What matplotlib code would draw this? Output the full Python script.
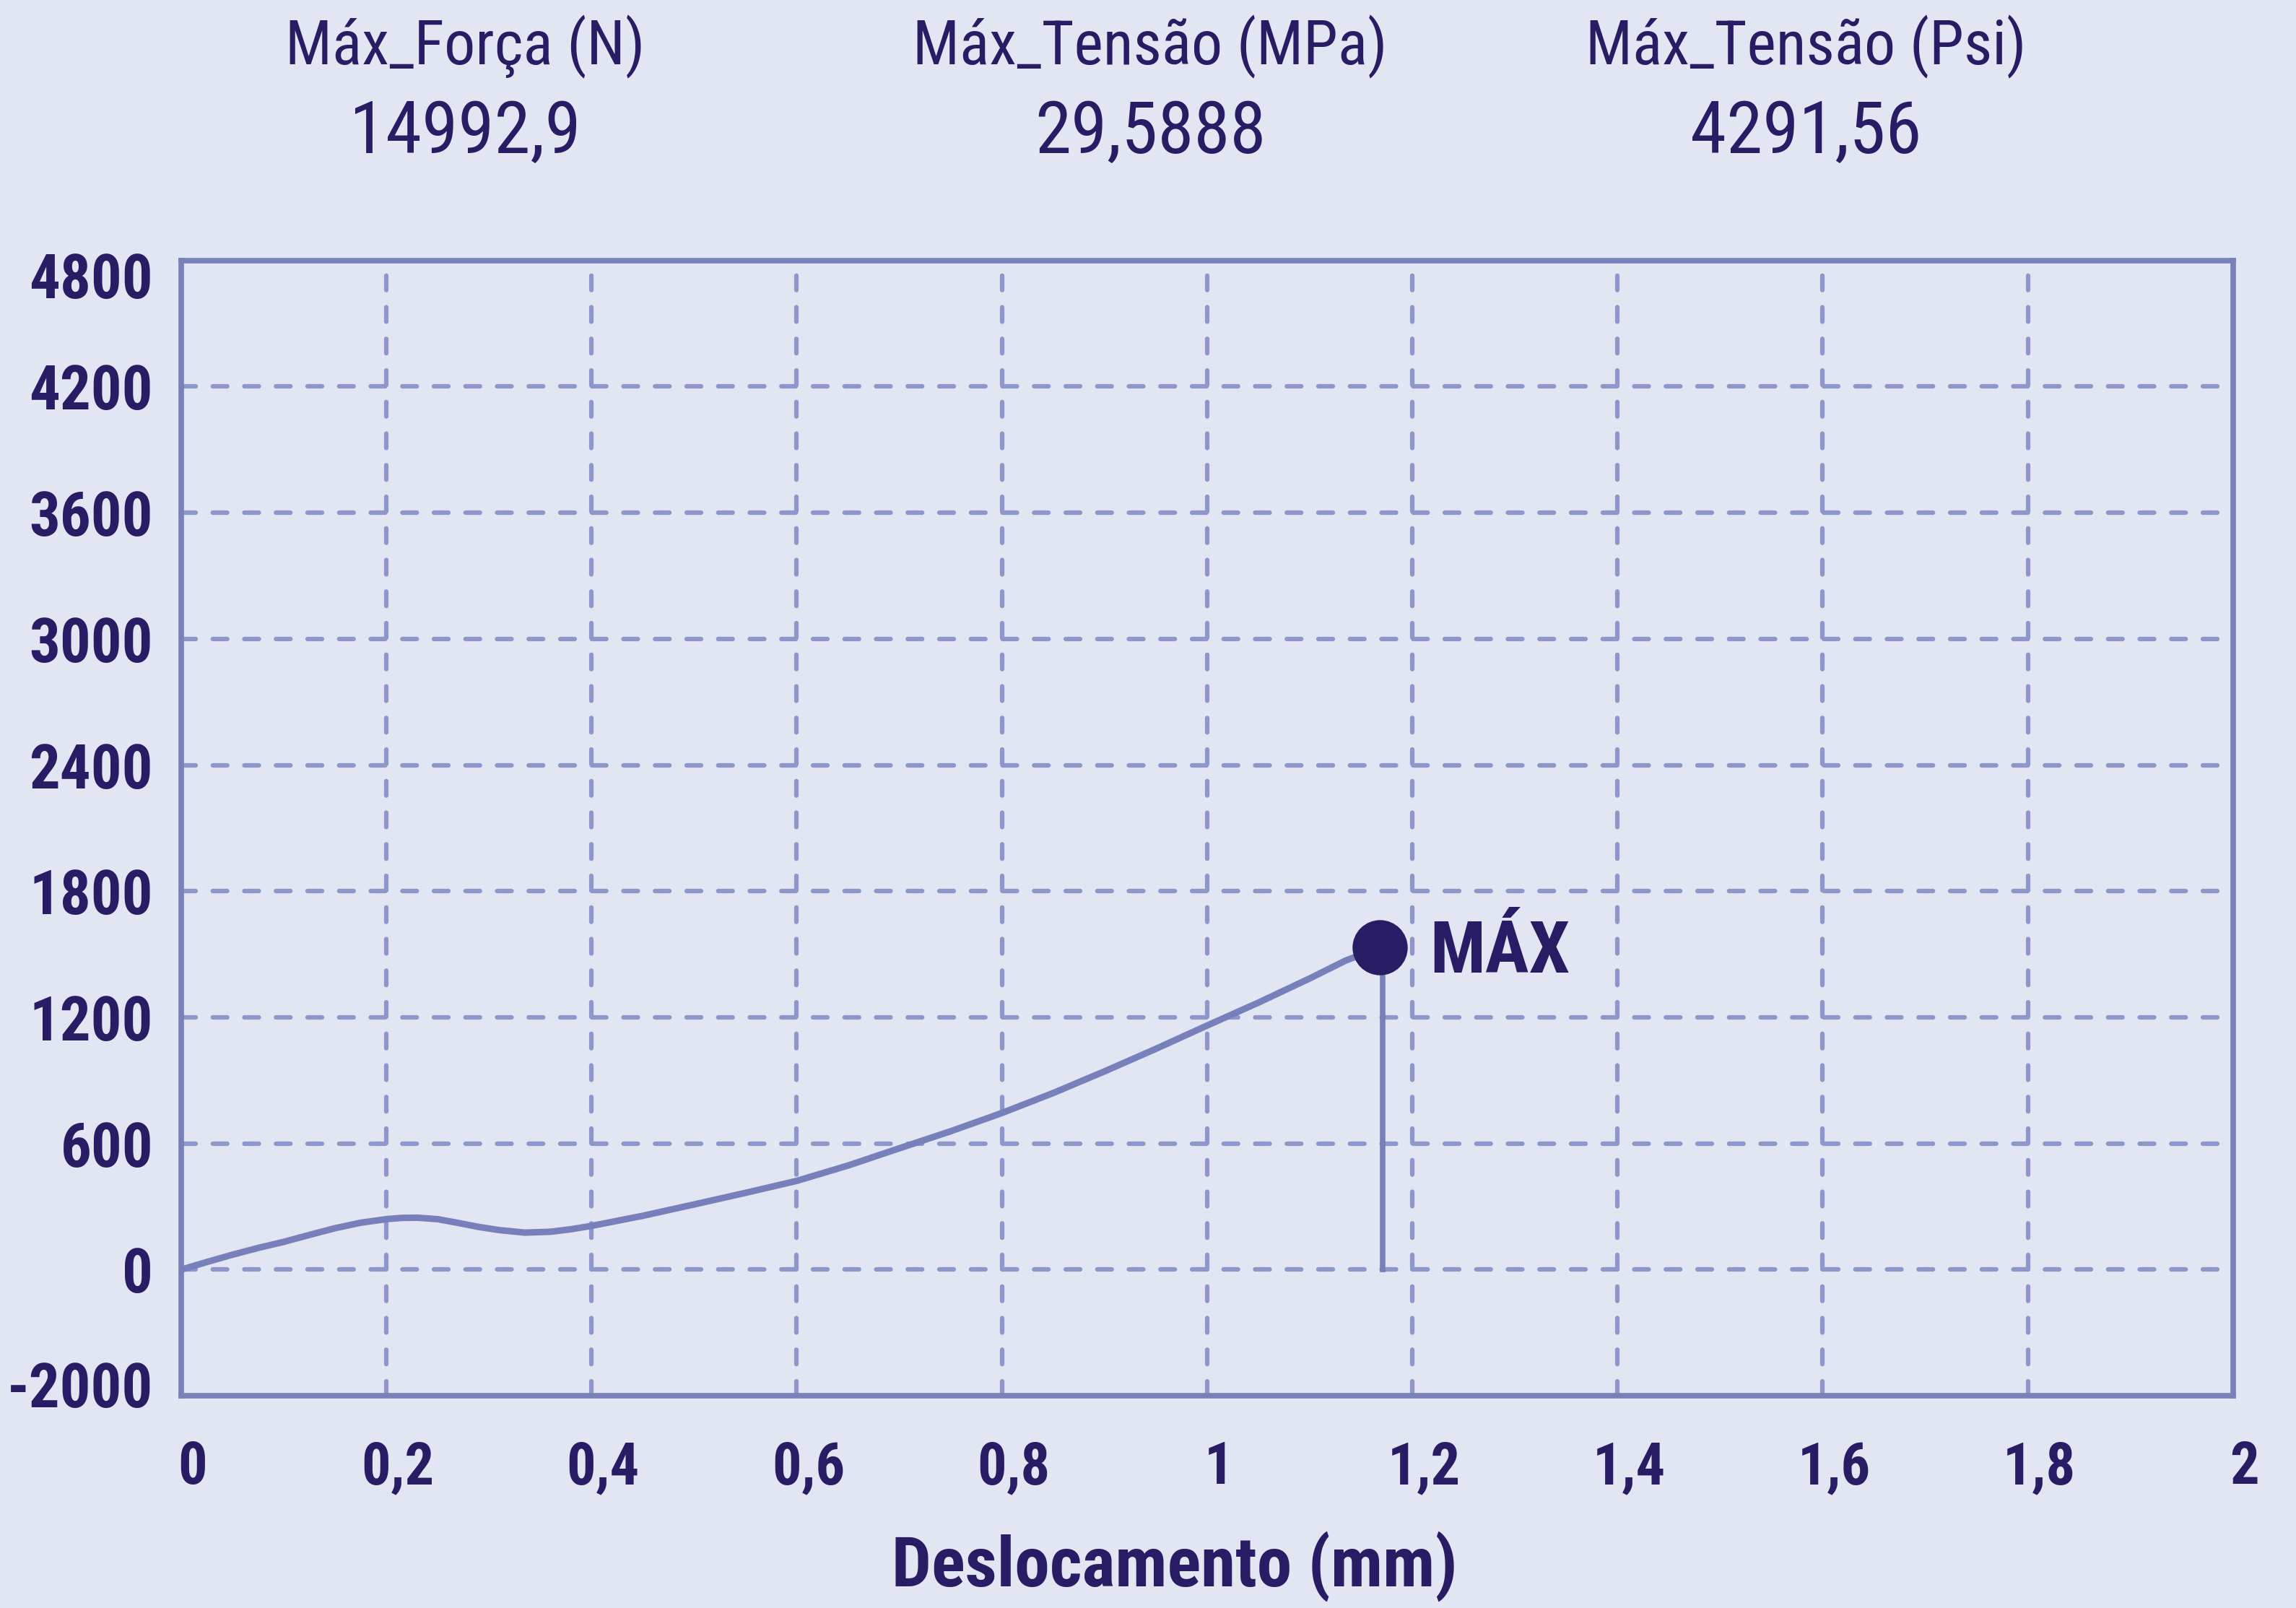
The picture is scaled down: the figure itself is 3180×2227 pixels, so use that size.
import matplotlib.pyplot as plt
import matplotlib.transforms as mtransforms

# valores (deslocamento em mm, força)
deslocamento = [0, 0.025, 0.05, 0.075, 0.10, 0.125, 0.15, 0.175, 0.20, 0.215, 0.23,
                0.25, 0.27, 0.29, 0.31, 0.335, 0.36, 0.38, 0.40, 0.45,
                0.50, 0.55, 0.60, 0.65, 0.70, 0.75, 0.80, 0.85, 0.90, 0.95,
                1.00, 1.05, 1.10, 1.135, 1.168]
forca = [0, 36, 71, 103, 132, 165, 197, 223, 240, 246, 247,
         240, 222, 203, 188, 176, 180, 192, 208, 256,
         310, 365, 422, 495, 577, 658, 745, 840, 943, 1050,
         1161, 1270, 1385, 1470, 1532]

max_x = 1.168
max_y = 1532

# cabeçalho
titulos = ["Máx_Força (N)", "Máx_Tensão (MPa)", "Máx_Tensão (Psi)"]
valores = ["14992,9", "29,5888", "4291,56"]

# eixo y com espaçamento igual (o -2000 fica um degrau abaixo de 0)
y_pos = [-600, 0, 600, 1200, 1800, 2400, 3000, 3600, 4200, 4800]
y_labels = ["-2000", "0", "600", "1200", "1800", "2400", "3000", "3600", "4200", "4800"]
x_ticks = [0, 0.2, 0.4, 0.6, 0.8, 1.0, 1.2, 1.4, 1.6, 1.8, 2.0]
x_labels = ["0", "0,2", "0,4", "0,6", "0,8", "1", "1,2", "1,4", "1,6", "1,8", "2"]

fundo = "#E2E6F2"
texto = "#281C64"
eixo = "#7A80BA"
grade = "#8E96CA"
curva = "#7880BC"
fonte = ["Roboto Condensed", "Liberation Sans", "DejaVu Sans"]

fig = plt.figure(figsize=(31.8, 22.27), dpi=100, facecolor=fundo)
ax = fig.add_axes([0.0789, 0.132, 0.8937, 0.706])
ax.set_facecolor(fundo)

for xc, t, v in zip([0.2025, 0.501, 0.7865], titulos, valores):
    fig.text(xc, 0.971, t, ha="center", va="center", fontsize=62,
             color=texto, family=fonte)
    fig.text(xc, 0.917, v, ha="center", va="center", fontsize=73,
             color=texto, family=fonte)

# grade tracejada
for xv in x_ticks[1:-1]:
    ax.axvline(xv, color=grade, lw=4.5, dashes=(3.2, 3.8),
               dash_capstyle="round", zorder=1)
for yv in y_pos[1:-1]:
    ax.axhline(yv, color=grade, lw=4.5, dashes=(3.2, 3.8),
               dash_capstyle="round", zorder=1)

ax.plot(deslocamento, forca, color=curva, lw=6.5, zorder=3,
        solid_capstyle="round", solid_joinstyle="round")
ax.plot([max_x + 0.003, max_x + 0.003], [0, max_y], color=curva, lw=5.5, zorder=3)
ax.plot([max_x], [max_y], "o", color=texto, markersize=54, zorder=4)
ax.text(1.217, max_y - 25, "MÁX", ha="left", va="center", fontsize=73,
        fontweight="bold", color=texto, family=fonte)

ax.set_xlim(0, 2)
ax.set_ylim(-600, 4800)
ax.set_xticks(x_ticks)
ax.set_xticklabels(x_labels)
ax.set_yticks(y_pos)
ax.set_yticklabels(y_labels)
ax.tick_params(length=0, pad=0, labelcolor=texto)
ax.tick_params(axis="x", pad=44)
ax.tick_params(axis="y", pad=28)
desloc = mtransforms.ScaledTranslation(0.16, 0, fig.dpi_scale_trans)
for lab in ax.get_xticklabels():
    lab.set_fontsize(58)
    lab.set_fontweight("bold")
    lab.set_family(fonte)
    lab.set_transform(lab.get_transform() + desloc)
for lab in ax.get_yticklabels():
    lab.set_fontsize(61)
    lab.set_fontweight("bold")
    lab.set_family(fonte)
# os rótulos das pontas ficam um pouco para dentro
ylabs = ax.get_yticklabels()
ylabs[0].set_transform(ylabs[0].get_transform() +
                       mtransforms.ScaledTranslation(0, 0.16, fig.dpi_scale_trans))
ylabs[-1].set_transform(ylabs[-1].get_transform() +
                        mtransforms.ScaledTranslation(0, -0.2, fig.dpi_scale_trans))

for s in ax.spines.values():
    s.set_color(eixo)
    s.set_linewidth(5.5)

fig.text(0.5115, 0.026, "Deslocamento (mm)", ha="center", va="center",
         fontsize=70, fontweight="bold", color=texto, family=fonte)

fig.savefig("out.png", facecolor=fundo)
